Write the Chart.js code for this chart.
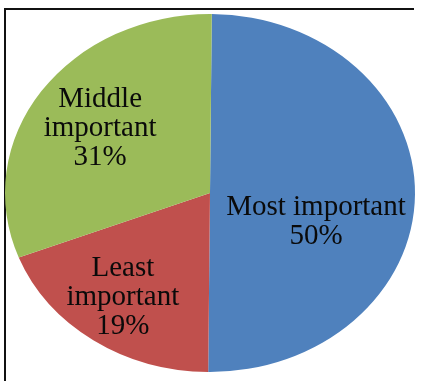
<!DOCTYPE html>
<html>
<head>
<meta charset="utf-8">
<script src="https://cdn.jsdelivr.net/npm/chart.js@4/dist/chart.umd.min.js"></script>
<style>
  html, body { margin:0; padding:0; background:#fff; }
  #wrap { position:relative; width:421px; height:381px; overflow:hidden; }
  #frame { position:absolute; left:4px; top:8px; width:410px; height:400px; border-top:2px solid #111; border-left:2px solid #111; box-sizing:border-box; }
  canvas { position:absolute; left:0; top:0; }
</style>
</head>
<body>
<div id="wrap">
  <div id="frame"></div>
  <canvas id="pieChart" width="421" height="381"></canvas>
</div>
<script>
// ----- data -----
const categories = ["Most important", "Least important", "Middle important"];
const labelLines = [["Most important"], ["Least", "important"], ["Middle", "important"]];
const values = [50, 19, 31];
const colors = ["#4F81BD", "#C0504D", "#9BBB59"];

;(function (w) {
  const $ = (id) => document.getElementById(id);

  // stretch the round pie to fill the (non-square) chart area -> ellipse like the original
  const ellipsePie = {
    id: "ellipsePie",
    beforeDatasetsDraw(chart) {
      const arc = chart.getDatasetMeta(0).data[0]; if (!arc) return;
      const a = chart.chartArea, r = arc.outerRadius;
      const ctx = chart.ctx;
      ctx.save();
      ctx.translate((a.left + a.right) / 2, (a.top + a.bottom) / 2);
      ctx.scale((a.width / 2) / r, (a.height / 2) / r);
      ctx.translate(-arc.x, -arc.y);
    },
    afterDatasetsDraw(chart, _args, opts) {
      chart.ctx.restore();
      const ctx = chart.ctx, a = chart.chartArea;
      const cx = (a.left + a.right) / 2, cy = (a.top + a.bottom) / 2;
      const rx = a.width / 2, ry = a.height / 2;
      const data = chart.data.datasets[0].data;
      const total = data.reduce((s, v) => s + v, 0);
      ctx.save();
      ctx.font = opts.font; ctx.fillStyle = opts.color;
      ctx.textAlign = "center"; ctx.textBaseline = "middle";
      data.forEach((v, i) => {
        const lines = [...labelLines[i], `${Math.round(v / total * 100)}%`];
        const [fx, fy] = opts.anchors[i];
        const x = cx + fx * rx, y0 = cy + fy * ry - (lines.length - 1) * opts.lineHeight / 2;
        lines.forEach((t, k) => ctx.fillText(t, x, y0 + k * opts.lineHeight));
      });
      ctx.restore();
    }
  };

  const ctx = $("pieChart").getContext("2d");
  w.pieChart = new Chart(ctx, {
    type: "pie",
    data: { labels: categories, datasets: [{ data: values, backgroundColor: colors, borderWidth: 0 }] },
    options: {
      responsive: false, animation: false, rotation: 0.5,
      layout: { padding: { left: 5, right: 6, top: 14, bottom: 9 } },
      events: [],
      plugins: {
        legend: { display: false }, tooltip: { enabled: false },
        ellipsePie: {
          font: "29px 'Liberation Serif', 'Times New Roman', serif", color: "#0a0a0a", lineHeight: 29,
          anchors: [[0.517, 0.162], [-0.425, 0.581], [-0.536, -0.363]]
        }
      }
    },
    plugins: [ellipsePie]
  });
})(window);
</script>
</body>
</html>
